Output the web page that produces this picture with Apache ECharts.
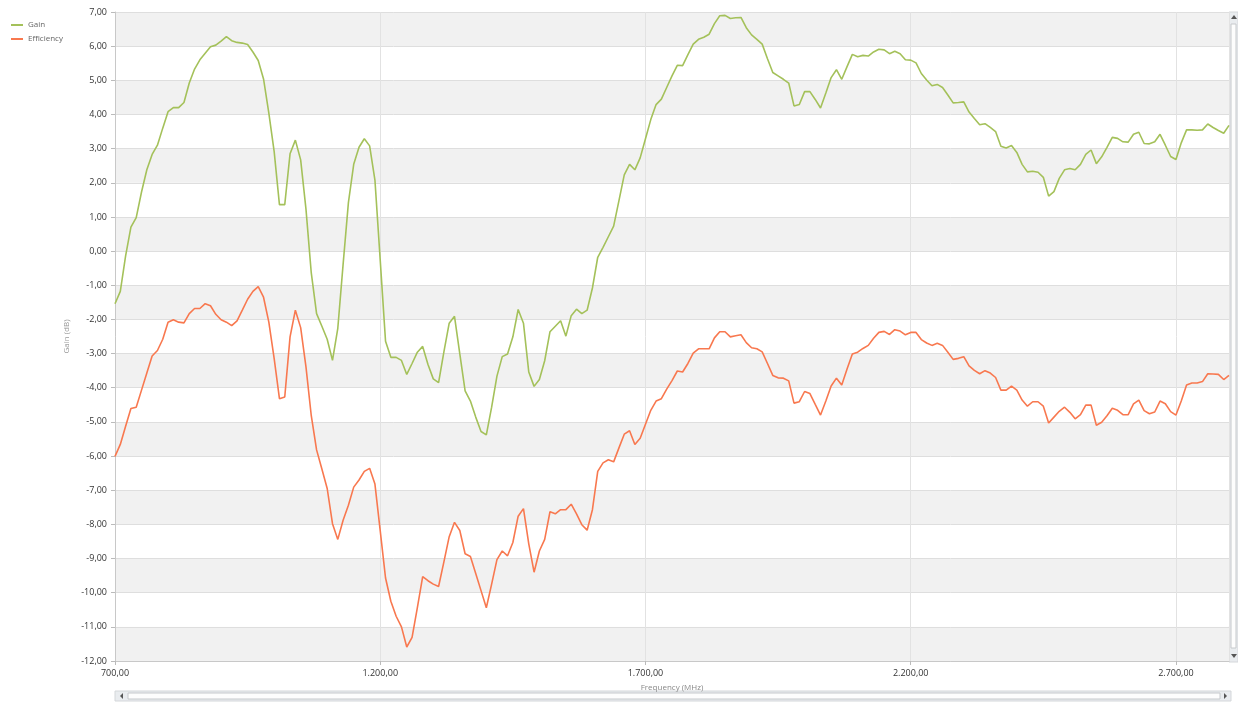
<!DOCTYPE html>
<html>

<head>
    <meta charset="utf-8">
    <script src="https://cdn.jsdelivr.net/npm/echarts@6/dist/echarts.min.js"></script>
    <style>
        html, body { margin: 0; padding: 0; background: #fff; }
    </style>
</head>

<body>
    <div id="main" style="width: 1238px;height:702px;"></div>
    <script type="text/javascript">
        // frequencies (MHz)
        var freqs = [
            700, 710, 720, 730, 740, 750, 760, 770, 780, 790, 800, 810, 820, 830, 840, 850, 860, 870, 880, 890,
            900, 910, 920, 930, 940, 950, 960, 970, 980, 990, 1000, 1010, 1020, 1030, 1040, 1050, 1060, 1070, 1080, 1090,
            1100, 1110, 1120, 1130, 1140, 1150, 1160, 1170, 1180, 1190, 1200, 1210, 1220, 1230, 1240, 1250, 1260, 1270, 1280, 1290,
            1300, 1310, 1320, 1330, 1340, 1350, 1360, 1370, 1380, 1390, 1400, 1410, 1420, 1430, 1440, 1450, 1460, 1470, 1480, 1490,
            1500, 1510, 1520, 1530, 1540, 1550, 1560, 1570, 1580, 1590, 1600, 1610, 1620, 1630, 1640, 1650, 1660, 1670, 1680, 1690,
            1700, 1710, 1720, 1730, 1740, 1750, 1760, 1770, 1780, 1790, 1800, 1810, 1820, 1830, 1840, 1850, 1860, 1870, 1880, 1890,
            1900, 1910, 1920, 1930, 1940, 1950, 1960, 1970, 1980, 1990, 2000, 2010, 2020, 2030, 2040, 2050, 2060, 2070, 2080, 2090,
            2100, 2110, 2120, 2130, 2140, 2150, 2160, 2170, 2180, 2190, 2200, 2210, 2220, 2230, 2240, 2250, 2260, 2270, 2280, 2290,
            2300, 2310, 2320, 2330, 2340, 2350, 2360, 2370, 2380, 2390, 2400, 2410, 2420, 2430, 2440, 2450, 2460, 2470, 2480, 2490,
            2500, 2510, 2520, 2530, 2540, 2550, 2560, 2570, 2580, 2590, 2600, 2610, 2620, 2630, 2640, 2650, 2660, 2670, 2680, 2690,
            2700, 2710, 2720, 2730, 2740, 2750, 2760, 2770, 2780, 2790, 2800
        ];

        // Gain (dB)
        var gain = [
            -1.54, -1.18, -0.14, 0.70, 0.98, 1.73, 2.38, 2.83, 3.10, 3.60, 4.08, 4.20, 4.20, 4.35, 4.92, 5.33, 5.60, 5.79, 5.98, 6.03,
            6.15, 6.28, 6.16, 6.11, 6.09, 6.05, 5.83, 5.58, 5.04, 4.04, 2.92, 1.36, 1.36, 2.85, 3.25, 2.67, 1.23, -0.64, -1.83, -2.20,
            -2.58, -3.20, -2.26, -0.39, 1.42, 2.54, 3.04, 3.29, 3.08, 2.08, -0.27, -2.64, -3.11, -3.11, -3.20, -3.61, -3.29, -2.96, -2.79, -3.32,
            -3.74, -3.85, -2.95, -2.11, -1.91, -3.01, -4.09, -4.39, -4.86, -5.28, -5.38, -4.57, -3.66, -3.09, -3.01, -2.51, -1.71, -2.11, -3.54, -3.96,
            -3.76, -3.21, -2.36, -2.20, -2.04, -2.49, -1.89, -1.70, -1.83, -1.73, -1.08, -0.18, 0.11, 0.42, 0.73, 1.48, 2.23, 2.54, 2.38, 2.73,
            3.29, 3.85, 4.29, 4.45, 4.79, 5.13, 5.44, 5.43, 5.75, 6.06, 6.20, 6.26, 6.35, 6.66, 6.89, 6.90, 6.81, 6.83, 6.84, 6.54,
            6.33, 6.20, 6.06, 5.63, 5.23, 5.13, 5.03, 4.92, 4.25, 4.29, 4.67, 4.67, 4.44, 4.19, 4.63, 5.08, 5.31, 5.03, 5.40, 5.76,
            5.69, 5.73, 5.71, 5.83, 5.91, 5.89, 5.78, 5.85, 5.78, 5.60, 5.59, 5.51, 5.20, 5.01, 4.84, 4.88, 4.79, 4.57, 4.34, 4.35,
            4.37, 4.07, 3.88, 3.70, 3.73, 3.62, 3.50, 3.07, 3.02, 3.09, 2.89, 2.54, 2.32, 2.34, 2.31, 2.16, 1.61, 1.74, 2.13, 2.38,
            2.42, 2.38, 2.54, 2.83, 2.96, 2.56, 2.76, 3.04, 3.33, 3.30, 3.20, 3.19, 3.42, 3.48, 3.15, 3.14, 3.20, 3.42, 3.10, 2.77,
            2.68, 3.17, 3.55, 3.55, 3.54, 3.55, 3.72, 3.62, 3.53, 3.45, 3.68
        ];

        // Efficiency (dB)
        var efficiency = [
            -6.01, -5.66, -5.13, -4.61, -4.57, -4.07, -3.57, -3.07, -2.91, -2.58, -2.08, -2.01, -2.08, -2.10, -1.83, -1.68, -1.68, -1.54, -1.60, -1.85,
            -2.01, -2.08, -2.18, -2.04, -1.73, -1.41, -1.18, -1.04, -1.35, -2.08, -3.14, -4.32, -4.27, -2.51, -1.73, -2.24, -3.39, -4.82, -5.82, -6.38,
            -6.95, -7.98, -8.44, -7.88, -7.44, -6.91, -6.70, -6.45, -6.36, -6.82, -8.19, -9.57, -10.25, -10.69, -11.00, -11.59, -11.31, -10.44, -9.53, -9.65,
            -9.75, -9.82, -9.10, -8.36, -7.94, -8.18, -8.86, -8.94, -9.44, -9.94, -10.44, -9.75, -9.03, -8.78, -8.92, -8.53, -7.76, -7.54, -8.57, -9.40,
            -8.78, -8.44, -7.63, -7.69, -7.57, -7.57, -7.41, -7.69, -8.01, -8.17, -7.57, -6.45, -6.20, -6.11, -6.17, -5.76, -5.36, -5.26, -5.66, -5.48,
            -5.07, -4.66, -4.39, -4.32, -4.04, -3.79, -3.51, -3.54, -3.29, -2.99, -2.86, -2.86, -2.86, -2.54, -2.36, -2.36, -2.51, -2.48, -2.45, -2.68,
            -2.83, -2.86, -2.95, -3.29, -3.64, -3.71, -3.72, -3.80, -4.45, -4.41, -4.11, -4.17, -4.49, -4.80, -4.39, -3.95, -3.72, -3.92, -3.45, -3.01,
            -2.96, -2.85, -2.76, -2.55, -2.38, -2.35, -2.44, -2.30, -2.34, -2.45, -2.38, -2.38, -2.59, -2.69, -2.76, -2.70, -2.76, -2.96, -3.17, -3.14,
            -3.09, -3.36, -3.49, -3.59, -3.50, -3.57, -3.70, -4.07, -4.07, -3.95, -4.07, -4.36, -4.54, -4.41, -4.41, -4.54, -5.03, -4.86, -4.69, -4.57,
            -4.72, -4.91, -4.79, -4.51, -4.51, -5.10, -5.01, -4.82, -4.60, -4.66, -4.79, -4.79, -4.47, -4.36, -4.67, -4.76, -4.71, -4.39, -4.47, -4.70,
            -4.80, -4.39, -3.92, -3.86, -3.86, -3.82, -3.59, -3.60, -3.61, -3.76, -3.64
        ];

        var seriesNames = ['Gain', 'Efficiency'];
        var seriesColors = ['#a4c15a', '#f8784f'];

        // x axis runs 700..2800; ticks every 500 counted from 700,
        // so the axis works in offsets from 700 and the labels add it back
        var freqMin = 700, freqMax = 2800, freqStep = 500;

        function fmt(v) {
            var neg = v < 0;
            var s = Math.abs(v).toFixed(2).split('.');
            var intPart = s[0].replace(/\B(?=(\d{3})+(?!\d))/g, '.');
            return (neg ? '-' : '') + intPart + ',' + s[1];
        }

        function pairs(vals) {
            return vals.map(function (v, i) { return [freqs[i] - freqMin, v]; });
        }

        var chartDom = document.getElementById('main');
        var myChart = echarts.init(chartDom);
        var font = "'Segoe UI', 'Open Sans', 'DejaVu Sans', sans-serif";

        var option = {
            animation: false,
            textStyle: { fontFamily: font },
            color: seriesColors,
            legend: {
                orient: 'vertical',
                left: 6,
                top: 16,
                itemWidth: 12,
                itemHeight: 2,
                itemGap: 6,
                icon: 'rect',
                textStyle: { fontSize: 8, color: '#666', fontFamily: font },
                data: seriesNames
            },
            grid: { left: 115, right: 9, top: 12, bottom: 41 },
            xAxis: {
                type: 'value',
                min: 0,
                max: freqMax - freqMin,
                interval: freqStep,
                name: 'Frequency (MHz)',
                nameLocation: 'middle',
                nameGap: 23,
                nameTextStyle: { fontSize: 8, color: '#888' },
                axisLine: { show: true, onZero: false, lineStyle: { color: '#c8c8c8' } },
                axisTick: { show: true, length: 4, lineStyle: { color: '#bbb' } },
                axisLabel: {
                    fontSize: 9,
                    color: '#333',
                    margin: 8,
                    showMaxLabel: false,
                    formatter: function (v) {
                        if (v >= freqMax - freqMin) return '';
                        return fmt(v + freqMin);
                    }
                },
                splitLine: { show: true, lineStyle: { color: '#e2e2e2' } }
            },
            yAxis: {
                type: 'value',
                min: -12,
                max: 7,
                interval: 1,
                name: 'Gain (dB)',
                nameLocation: 'middle',
                nameGap: 37,
                nameTextStyle: { fontSize: 8, color: '#999' },
                axisLine: { show: true, onZero: false, lineStyle: { color: '#c8c8c8' } },
                axisTick: { show: true, length: 4, lineStyle: { color: '#bbb' } },
                axisLabel: { fontSize: 9, color: '#333', margin: 8, formatter: fmt },
                splitLine: { show: true, lineStyle: { color: '#dedede' } },
                splitArea: { show: true, areaStyle: { color: ['#f1f1f1', '#ffffff'] } }
            },
            series: [
                {
                    name: seriesNames[0],
                    type: 'line',
                    data: pairs(gain),
                    showSymbol: false,
                    lineStyle: { width: 1.6, color: seriesColors[0] }
                },
                {
                    name: seriesNames[1],
                    type: 'line',
                    data: pairs(efficiency),
                    showSymbol: false,
                    lineStyle: { width: 1.6, color: seriesColors[1] }
                }
            ],
            // scrollbars around the plot (decoration only)
            graphic: [
                { type: 'rect', shape: { x: 115, y: 691, width: 1116, height: 10 }, style: { fill: '#e9ecef', stroke: '#d4d7da' } },
                { type: 'rect', shape: { x: 128, y: 693, width: 1092, height: 6 }, style: { fill: '#fdfdfd', stroke: '#c6c9cc' } },
                { type: 'polygon', shape: { points: [[123, 693], [123, 699], [120, 696]] }, style: { fill: '#555' } },
                { type: 'polygon', shape: { points: [[1224, 693], [1224, 699], [1227, 696]] }, style: { fill: '#555' } },
                { type: 'rect', shape: { x: 1229, y: 12, width: 9, height: 650 }, style: { fill: '#e9ecef', stroke: '#d4d7da' } },
                { type: 'rect', shape: { x: 1231, y: 24, width: 5, height: 624 }, style: { fill: '#fdfdfd', stroke: '#c6c9cc' } },
                { type: 'polygon', shape: { points: [[1231, 19], [1237, 19], [1234, 15]] }, style: { fill: '#555' } },
                { type: 'polygon', shape: { points: [[1231, 654], [1237, 654], [1234, 658]] }, style: { fill: '#555' } }
            ]
        };
        myChart.setOption(option);
    </script>
</body>

</html>
